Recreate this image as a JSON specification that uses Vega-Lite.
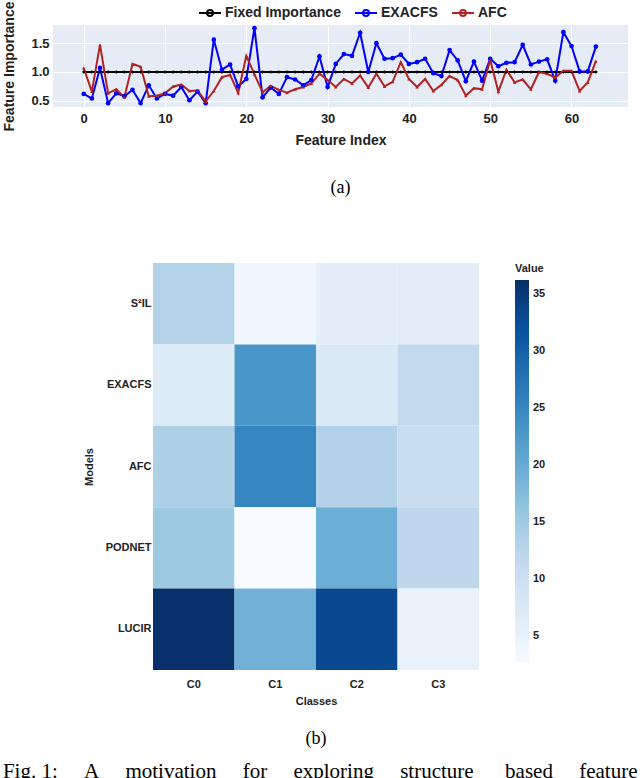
{
  "$schema": "https://vega.github.io/schema/vega-lite/v6.json",
  "padding": {"left": 2, "top": 1, "right": 0, "bottom": 0},
  "background": "white",
  "spacing": 66,
  "title": {"text": "Fig. 1:\u00a0\u00a0\u00a0\u00a0\u00a0A\u00a0\u00a0\u00a0\u00a0\u00a0motivation\u00a0\u00a0\u00a0\u00a0\u00a0for\u00a0\u00a0\u00a0\u00a0\u00a0exploring\u00a0\u00a0\u00a0\u00a0\u00a0structure\u00a0\u00a0\u00a0\u00a0\u00a0\u00a0based\u00a0\u00a0\u00a0\u00a0\u00a0feature", "orient": "bottom", "anchor": "start", "font": "Liberation Serif", "fontSize": 21, "fontWeight": "normal", "color": "#000", "offset": 13},
  "config": {
    "font": "Liberation Sans",
    "axis": {"labelFont": "Liberation Sans", "titleFont": "Liberation Sans", "labelFontWeight": "bold", "titleFontWeight": "bold", "labelColor": "#222", "titleColor": "#222"},
    "legend": {"labelFont": "Liberation Sans", "titleFont": "Liberation Sans"}
  },
  "vconcat": [
    {
      "width": 575,
      "height": 82,
      "view": {"fill": "#E5ECF6", "stroke": null},
      "title": {"text": "(a)", "orient": "bottom", "anchor": "middle", "font": "Liberation Serif", "fontSize": 18, "fontWeight": "normal", "color": "#000", "offset": 32},
      "data": {"values": [
        {"s":"Fixed Importance","i":0,"v":1.0},{"s":"Fixed Importance","i":1,"v":1.0},{"s":"Fixed Importance","i":2,"v":1.0},{"s":"Fixed Importance","i":3,"v":1.0},{"s":"Fixed Importance","i":4,"v":1.0},{"s":"Fixed Importance","i":5,"v":1.0},{"s":"Fixed Importance","i":6,"v":1.0},{"s":"Fixed Importance","i":7,"v":1.0},
        {"s":"Fixed Importance","i":8,"v":1.0},{"s":"Fixed Importance","i":9,"v":1.0},{"s":"Fixed Importance","i":10,"v":1.0},{"s":"Fixed Importance","i":11,"v":1.0},{"s":"Fixed Importance","i":12,"v":1.0},{"s":"Fixed Importance","i":13,"v":1.0},{"s":"Fixed Importance","i":14,"v":1.0},{"s":"Fixed Importance","i":15,"v":1.0},
        {"s":"Fixed Importance","i":16,"v":1.0},{"s":"Fixed Importance","i":17,"v":1.0},{"s":"Fixed Importance","i":18,"v":1.0},{"s":"Fixed Importance","i":19,"v":1.0},{"s":"Fixed Importance","i":20,"v":1.0},{"s":"Fixed Importance","i":21,"v":1.0},{"s":"Fixed Importance","i":22,"v":1.0},{"s":"Fixed Importance","i":23,"v":1.0},
        {"s":"Fixed Importance","i":24,"v":1.0},{"s":"Fixed Importance","i":25,"v":1.0},{"s":"Fixed Importance","i":26,"v":1.0},{"s":"Fixed Importance","i":27,"v":1.0},{"s":"Fixed Importance","i":28,"v":1.0},{"s":"Fixed Importance","i":29,"v":1.0},{"s":"Fixed Importance","i":30,"v":1.0},{"s":"Fixed Importance","i":31,"v":1.0},
        {"s":"Fixed Importance","i":32,"v":1.0},{"s":"Fixed Importance","i":33,"v":1.0},{"s":"Fixed Importance","i":34,"v":1.0},{"s":"Fixed Importance","i":35,"v":1.0},{"s":"Fixed Importance","i":36,"v":1.0},{"s":"Fixed Importance","i":37,"v":1.0},{"s":"Fixed Importance","i":38,"v":1.0},{"s":"Fixed Importance","i":39,"v":1.0},
        {"s":"Fixed Importance","i":40,"v":1.0},{"s":"Fixed Importance","i":41,"v":1.0},{"s":"Fixed Importance","i":42,"v":1.0},{"s":"Fixed Importance","i":43,"v":1.0},{"s":"Fixed Importance","i":44,"v":1.0},{"s":"Fixed Importance","i":45,"v":1.0},{"s":"Fixed Importance","i":46,"v":1.0},{"s":"Fixed Importance","i":47,"v":1.0},
        {"s":"Fixed Importance","i":48,"v":1.0},{"s":"Fixed Importance","i":49,"v":1.0},{"s":"Fixed Importance","i":50,"v":1.0},{"s":"Fixed Importance","i":51,"v":1.0},{"s":"Fixed Importance","i":52,"v":1.0},{"s":"Fixed Importance","i":53,"v":1.0},{"s":"Fixed Importance","i":54,"v":1.0},{"s":"Fixed Importance","i":55,"v":1.0},
        {"s":"Fixed Importance","i":56,"v":1.0},{"s":"Fixed Importance","i":57,"v":1.0},{"s":"Fixed Importance","i":58,"v":1.0},{"s":"Fixed Importance","i":59,"v":1.0},{"s":"Fixed Importance","i":60,"v":1.0},{"s":"Fixed Importance","i":61,"v":1.0},{"s":"Fixed Importance","i":62,"v":1.0},{"s":"Fixed Importance","i":63,"v":1.0},
        {"s":"EXACFS","i":0,"v":0.62},{"s":"EXACFS","i":1,"v":0.54},{"s":"EXACFS","i":2,"v":1.07},{"s":"EXACFS","i":3,"v":0.46},{"s":"EXACFS","i":4,"v":0.63},{"s":"EXACFS","i":5,"v":0.58},{"s":"EXACFS","i":6,"v":0.69},{"s":"EXACFS","i":7,"v":0.46},
        {"s":"EXACFS","i":8,"v":0.77},{"s":"EXACFS","i":9,"v":0.54},{"s":"EXACFS","i":10,"v":0.62},{"s":"EXACFS","i":11,"v":0.59},{"s":"EXACFS","i":12,"v":0.74},{"s":"EXACFS","i":13,"v":0.51},{"s":"EXACFS","i":14,"v":0.66},{"s":"EXACFS","i":15,"v":0.46},
        {"s":"EXACFS","i":16,"v":1.56},{"s":"EXACFS","i":17,"v":1.04},{"s":"EXACFS","i":18,"v":1.13},{"s":"EXACFS","i":19,"v":0.75},{"s":"EXACFS","i":20,"v":0.88},{"s":"EXACFS","i":21,"v":1.76},{"s":"EXACFS","i":22,"v":0.56},{"s":"EXACFS","i":23,"v":0.73},
        {"s":"EXACFS","i":24,"v":0.62},{"s":"EXACFS","i":25,"v":0.91},{"s":"EXACFS","i":26,"v":0.87},{"s":"EXACFS","i":27,"v":0.77},{"s":"EXACFS","i":28,"v":0.86},{"s":"EXACFS","i":29,"v":1.27},{"s":"EXACFS","i":30,"v":0.74},{"s":"EXACFS","i":31,"v":1.14},
        {"s":"EXACFS","i":32,"v":1.31},{"s":"EXACFS","i":33,"v":1.28},{"s":"EXACFS","i":34,"v":1.68},{"s":"EXACFS","i":35,"v":1.0},{"s":"EXACFS","i":36,"v":1.5},{"s":"EXACFS","i":37,"v":1.23},{"s":"EXACFS","i":38,"v":1.24},{"s":"EXACFS","i":39,"v":1.3},
        {"s":"EXACFS","i":40,"v":1.14},{"s":"EXACFS","i":41,"v":1.17},{"s":"EXACFS","i":42,"v":1.23},{"s":"EXACFS","i":43,"v":0.98},{"s":"EXACFS","i":44,"v":0.93},{"s":"EXACFS","i":45,"v":1.38},{"s":"EXACFS","i":46,"v":1.2},{"s":"EXACFS","i":47,"v":0.84},
        {"s":"EXACFS","i":48,"v":1.18},{"s":"EXACFS","i":49,"v":0.85},{"s":"EXACFS","i":50,"v":1.23},{"s":"EXACFS","i":51,"v":1.1},{"s":"EXACFS","i":52,"v":1.16},{"s":"EXACFS","i":53,"v":1.17},{"s":"EXACFS","i":54,"v":1.47},{"s":"EXACFS","i":55,"v":1.13},
        {"s":"EXACFS","i":56,"v":1.18},{"s":"EXACFS","i":57,"v":1.22},{"s":"EXACFS","i":58,"v":0.85},{"s":"EXACFS","i":59,"v":1.69},{"s":"EXACFS","i":60,"v":1.45},{"s":"EXACFS","i":61,"v":1.01},{"s":"EXACFS","i":62,"v":1.01},{"s":"EXACFS","i":63,"v":1.44},
        {"s":"AFC","i":0,"v":1.07},{"s":"AFC","i":1,"v":0.66},{"s":"AFC","i":2,"v":1.47},{"s":"AFC","i":3,"v":0.63},{"s":"AFC","i":4,"v":0.7},{"s":"AFC","i":5,"v":0.56},{"s":"AFC","i":6,"v":1.14},{"s":"AFC","i":7,"v":1.09},
        {"s":"AFC","i":8,"v":0.58},{"s":"AFC","i":9,"v":0.59},{"s":"AFC","i":10,"v":0.63},{"s":"AFC","i":11,"v":0.75},{"s":"AFC","i":12,"v":0.78},{"s":"AFC","i":13,"v":0.67},{"s":"AFC","i":14,"v":0.68},{"s":"AFC","i":15,"v":0.49},
        {"s":"AFC","i":16,"v":0.67},{"s":"AFC","i":17,"v":0.91},{"s":"AFC","i":18,"v":0.95},{"s":"AFC","i":19,"v":0.64},{"s":"AFC","i":20,"v":1.28},{"s":"AFC","i":21,"v":0.96},{"s":"AFC","i":22,"v":0.65},{"s":"AFC","i":23,"v":0.76},
        {"s":"AFC","i":24,"v":0.69},{"s":"AFC","i":25,"v":0.64},{"s":"AFC","i":26,"v":0.7},{"s":"AFC","i":27,"v":0.74},{"s":"AFC","i":28,"v":0.8},{"s":"AFC","i":29,"v":0.97},{"s":"AFC","i":30,"v":0.86},{"s":"AFC","i":31,"v":0.74},
        {"s":"AFC","i":32,"v":0.88},{"s":"AFC","i":33,"v":0.8},{"s":"AFC","i":34,"v":0.94},{"s":"AFC","i":35,"v":0.73},{"s":"AFC","i":36,"v":0.97},{"s":"AFC","i":37,"v":0.75},{"s":"AFC","i":38,"v":0.83},{"s":"AFC","i":39,"v":1.17},
        {"s":"AFC","i":40,"v":0.88},{"s":"AFC","i":41,"v":0.74},{"s":"AFC","i":42,"v":0.88},{"s":"AFC","i":43,"v":0.67},{"s":"AFC","i":44,"v":0.78},{"s":"AFC","i":45,"v":0.93},{"s":"AFC","i":46,"v":0.86},{"s":"AFC","i":47,"v":0.59},
        {"s":"AFC","i":48,"v":0.72},{"s":"AFC","i":49,"v":0.7},{"s":"AFC","i":50,"v":1.21},{"s":"AFC","i":51,"v":0.66},{"s":"AFC","i":52,"v":1.04},{"s":"AFC","i":53,"v":0.82},{"s":"AFC","i":54,"v":0.87},{"s":"AFC","i":55,"v":0.7},
        {"s":"AFC","i":56,"v":1.0},{"s":"AFC","i":57,"v":0.97},{"s":"AFC","i":58,"v":0.9},{"s":"AFC","i":59,"v":1.02},{"s":"AFC","i":60,"v":1.02},{"s":"AFC","i":61,"v":0.67},{"s":"AFC","i":62,"v":0.82},{"s":"AFC","i":63,"v":1.19}
      ]},
      "encoding": {
        "x": {"field": "i", "type": "quantitative", "scale": {"domain": [-3.78, 66.95], "nice": false, "zero": false},
              "axis": {"title": "Feature Index", "values": [0,10,20,30,40,50,60], "grid": true, "gridColor": "white", "gridWidth": 1, "ticks": false, "domain": false, "labelFontSize": 13, "labelPadding": 5, "titleFontSize": 14, "titlePadding": 8}},
        "y": {"field": "v", "type": "quantitative", "scale": {"domain": [0.393, 1.815], "nice": false, "zero": false},
              "axis": {"title": "Feature Importance", "values": [0.5, 1.0, 1.5], "format": ".1f", "grid": true, "gridColor": "white", "gridWidth": 1, "ticks": false, "domain": false, "labelFontSize": 13, "labelPadding": 4, "titleFontSize": 14, "titlePadding": 14}}
      },
      "layer": [
        {"mark": {"type": "line", "strokeWidth": 2, "clip": true},
         "encoding": {"color": {"field": "s", "type": "nominal", "scale": {"domain": ["Fixed Importance", "EXACFS", "AFC"], "range": ["#000000", "#0000ff", "#b22222"]},
                                "legend": {"title": null, "orient": "none", "legendX": 145, "legendY": -24, "direction": "horizontal", "symbolType": "M-1,0H1M0.27,0A0.27,0.27 0 1,1 -0.27,0A0.27,0.27 0 1,1 0.27,0Z", "symbolSize": 484, "symbolStrokeWidth": 2, "labelFontSize": 14, "labelFontWeight": "bold", "labelColor": "#222", "labelOffset": 3, "columnPadding": 10}},
                      "order": {"field": "i"}}},
        {"transform": [{"filter": "datum.s === 'Fixed Importance'"}], "mark": {"type": "point", "shape": "diamond", "filled": true, "size": 14, "color": "#000000", "opacity": 1}},
        {"transform": [{"filter": "datum.s === 'EXACFS'"}], "mark": {"type": "point", "shape": "circle", "filled": true, "size": 22, "color": "#0000ff", "opacity": 1}},
        {"transform": [{"filter": "datum.s === 'AFC'"}], "mark": {"type": "point", "shape": "triangle-up", "filled": true, "size": 12, "color": "#b22222", "opacity": 1}}
      ]
    },
    {
      "spacing": 20,
      "hconcat": [
        {"width": 10, "height": 1, "view": {"stroke": null}, "data": {"values": []}, "mark": {"type": "rect"}},
        {
          "width": 326,
          "height": 407,
          "view": {"stroke": null},
          "title": {"text": "(b)", "orient": "bottom", "anchor": "middle", "font": "Liberation Serif", "fontSize": 18, "fontWeight": "normal", "color": "#000", "offset": 24},
          "data": {"values": [
            {"model": "S²IL", "cls": "C0", "value": 13.0}, {"model": "S²IL", "cls": "C1", "value": 4.0}, {"model": "S²IL", "cls": "C2", "value": 6.0}, {"model": "S²IL", "cls": "C3", "value": 6.3},
            {"model": "EXACFS", "cls": "C0", "value": 7.0}, {"model": "EXACFS", "cls": "C1", "value": 23.0}, {"model": "EXACFS", "cls": "C2", "value": 7.5}, {"model": "EXACFS", "cls": "C3", "value": 11.5},
            {"model": "AFC", "cls": "C0", "value": 13.7}, {"model": "AFC", "cls": "C1", "value": 25.0}, {"model": "AFC", "cls": "C2", "value": 13.3}, {"model": "AFC", "cls": "C3", "value": 10.5},
            {"model": "PODNET", "cls": "C0", "value": 15.3}, {"model": "PODNET", "cls": "C1", "value": 2.7}, {"model": "PODNET", "cls": "C2", "value": 19.5}, {"model": "PODNET", "cls": "C3", "value": 12.0},
            {"model": "LUCIR", "cls": "C0", "value": 36.2}, {"model": "LUCIR", "cls": "C1", "value": 19.0}, {"model": "LUCIR", "cls": "C2", "value": 33.0}, {"model": "LUCIR", "cls": "C3", "value": 5.0}
          ]},
          "mark": {"type": "rect"},
          "encoding": {
            "x": {"field": "cls", "type": "nominal", "sort": ["C0", "C1", "C2", "C3"], "scale": {"paddingInner": 0, "paddingOuter": 0},
                  "axis": {"title": "Classes", "labelAngle": 0, "ticks": false, "domain": false, "labelFontSize": 11, "labelPadding": 8, "titleFontSize": 11, "titlePadding": 6}},
            "y": {"field": "model", "type": "nominal", "sort": ["S²IL", "EXACFS", "AFC", "PODNET", "LUCIR"], "scale": {"paddingInner": 0, "paddingOuter": 0},
                  "axis": {"title": "Models", "ticks": false, "domain": false, "labelFontSize": 11, "labelPadding": 2, "titleFontSize": 11, "titlePadding": 11}},
            "color": {"field": "value", "type": "quantitative",
                      "scale": {"domain": [2.7, 6.8875, 11.075, 15.2625, 19.45, 23.6375, 27.825, 32.0125, 36.2], "range": ["#f7fbff", "#deebf7", "#c6dbef", "#9ecae1", "#6baed6", "#4292c6", "#2171b5", "#08519c", "#08306b"]},
                      "legend": {"title": "Value", "titleFontSize": 11, "titleFontWeight": "bold", "titleColor": "#222", "titlePadding": 6, "values": [5, 10, 15, 20, 25, 30, 35], "gradientLength": 382, "gradientThickness": 14, "gradientStrokeWidth": 0, "offset": 36, "labelFontSize": 11, "labelFontWeight": "bold", "labelColor": "#222", "labelOffset": 4}}
          }
        }
      ]
    }
  ]
}
